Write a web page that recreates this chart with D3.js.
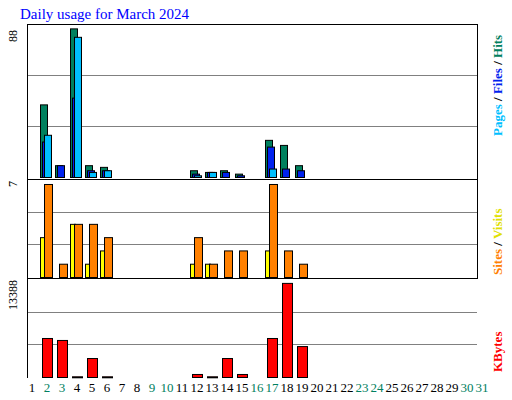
<!DOCTYPE html>
<html><head><meta charset="utf-8">
<script src="https://cdn.jsdelivr.net/npm/d3@7"></script>
<style>body{margin:0;background:#fff}svg{font-family:"Liberation Serif","DejaVu Serif",serif}</style>
</head><body><svg id="c" width="512" height="400"></svg>
<script>
const days = d3.range(1,32);
const weekend = [2,3,9,10,16,17,23,24,30,31];
const hits  = [0,43,7,88,7,6,0,0,0,0,0,4,3,4,2,0,22,19,7,0,0,0,0,0,0,0,0,0,0,0,0];
const files = [0,21,7,47,4,4,0,0,0,0,0,2,3,3,1,0,18,5,4,0,0,0,0,0,0,0,0,0,0,0,0];
const pages = [0,25,0,83,3,4,0,0,0,0,0,1,3,0,0,0,5,0,0,0,0,0,0,0,0,0,0,0,0,0,0];
const visits= [0,3,0,4,1,2,0,0,0,0,0,1,1,0,0,0,2,0,0,0,0,0,0,0,0,0,0,0,0,0,0];
const sites = [0,7,1,4,4,3,0,0,0,0,0,3,1,2,2,0,7,2,1,0,0,0,0,0,0,0,0,0,0,0,0];
const kbytes= [0,5550,5270,100,2700,100,0,0,0,0,0,430,100,2700,430,0,5550,13388,4400,0,0,0,0,0,0,0,0,0,0,0,0];
const yMaxLabels = ["88","7","13388"];

const svg = d3.select("#c");
const L=27, R=477;
const x = d3.scaleLinear().domain([1,32]).range([25,490]);
const panels = [
 {top:25,base:177,max:90},
 {top:180,base:277,max:7.3},
 {top:280,base:377,max:13800}
];
const ys = panels.map(p=>d3.scaleLinear().domain([0,p.max]).range([p.base,p.top]));
panels.forEach(p=>{
  const h=p.base-p.top+1;
  [1,2].forEach(k=>svg.append("line").attr("x1",L).attr("x2",R)
   .attr("y1",Math.round(p.base-h*k/3)+0.5).attr("y2",Math.round(p.base-h*k/3)+0.5)
   .attr("stroke","#808080").attr("stroke-width",1));
});
function bars(data,y,off,w,color){
  svg.append("g").selectAll("rect").data(days.filter((d,i)=>data[i]>0)).enter().append("rect")
   .attr("x",d=>x(d)+off+0.5).attr("width",w)
   .attr("y",d=>y(data[d-1])+0.5).attr("height",d=>Math.max(1,y(0)-y(data[d-1])))
   .attr("fill",color).attr("stroke","#000").attr("stroke-width",1);
}
bars(hits,ys[0],0,7,"#00805E");
bars(files,ys[0],2,7,"#0022EE");
bars(pages,ys[0],4,7,"#00BFFF");
bars(visits,ys[1],0,5,"#FFFF00");
bars(sites,ys[1],4,8,"#FF8000");
bars(kbytes,ys[2],2,10,"#FF0000");
svg.append("line").attr("x1",L+.5).attr("x2",L+.5).attr("y1",24).attr("y2",378).attr("stroke","#000");
svg.append("line").attr("x1",R+.5).attr("x2",R+.5).attr("y1",24).attr("y2",279).attr("stroke","#000");
[24.5,179.5,278.5].forEach(y=>svg.append("line").attr("x1",L).attr("x2",R+1).attr("y1",y).attr("y2",y).attr("stroke","#000"));
svg.append("text").attr("x",20).attr("y",19).attr("fill","#0000FF").attr("font-size",15).text("Daily usage for March 2024");
svg.append("g").selectAll("text").data(days).enter().append("text")
 .attr("x",d=>x(d)+7).attr("y",392).attr("text-anchor","middle").attr("font-size",13)
 .attr("fill",d=>weekend.includes(d)?"#008060":"#000").text(d=>d);
[[30,0],[181,1],[280,2]].forEach(([yy,i])=>svg.append("text").attr("transform",`translate(17,${yy}) rotate(-90)`)
 .attr("text-anchor","end").attr("font-size",12).text(yMaxLabels[i]));
function rlab(yEnd,parts){
  const t=svg.append("text").attr("transform",`translate(502,${yEnd}) rotate(-90)`).attr("font-size",13).attr("font-weight","bold");
  parts.forEach(([s,c])=>t.append("tspan").attr("fill",c).text(s));
}
rlab(136,[["Pages","#00BFFF"],[" / ","#000"],["Files","#0022EE"],[" / ","#000"],["Hits","#00805E"]]);
rlab(275,[["Sites","#FF8000"],[" / ","#000"],["Visits","#E0E000"]]);
rlab(372,[["KBytes","#FF0000"]]);
</script></body></html>
